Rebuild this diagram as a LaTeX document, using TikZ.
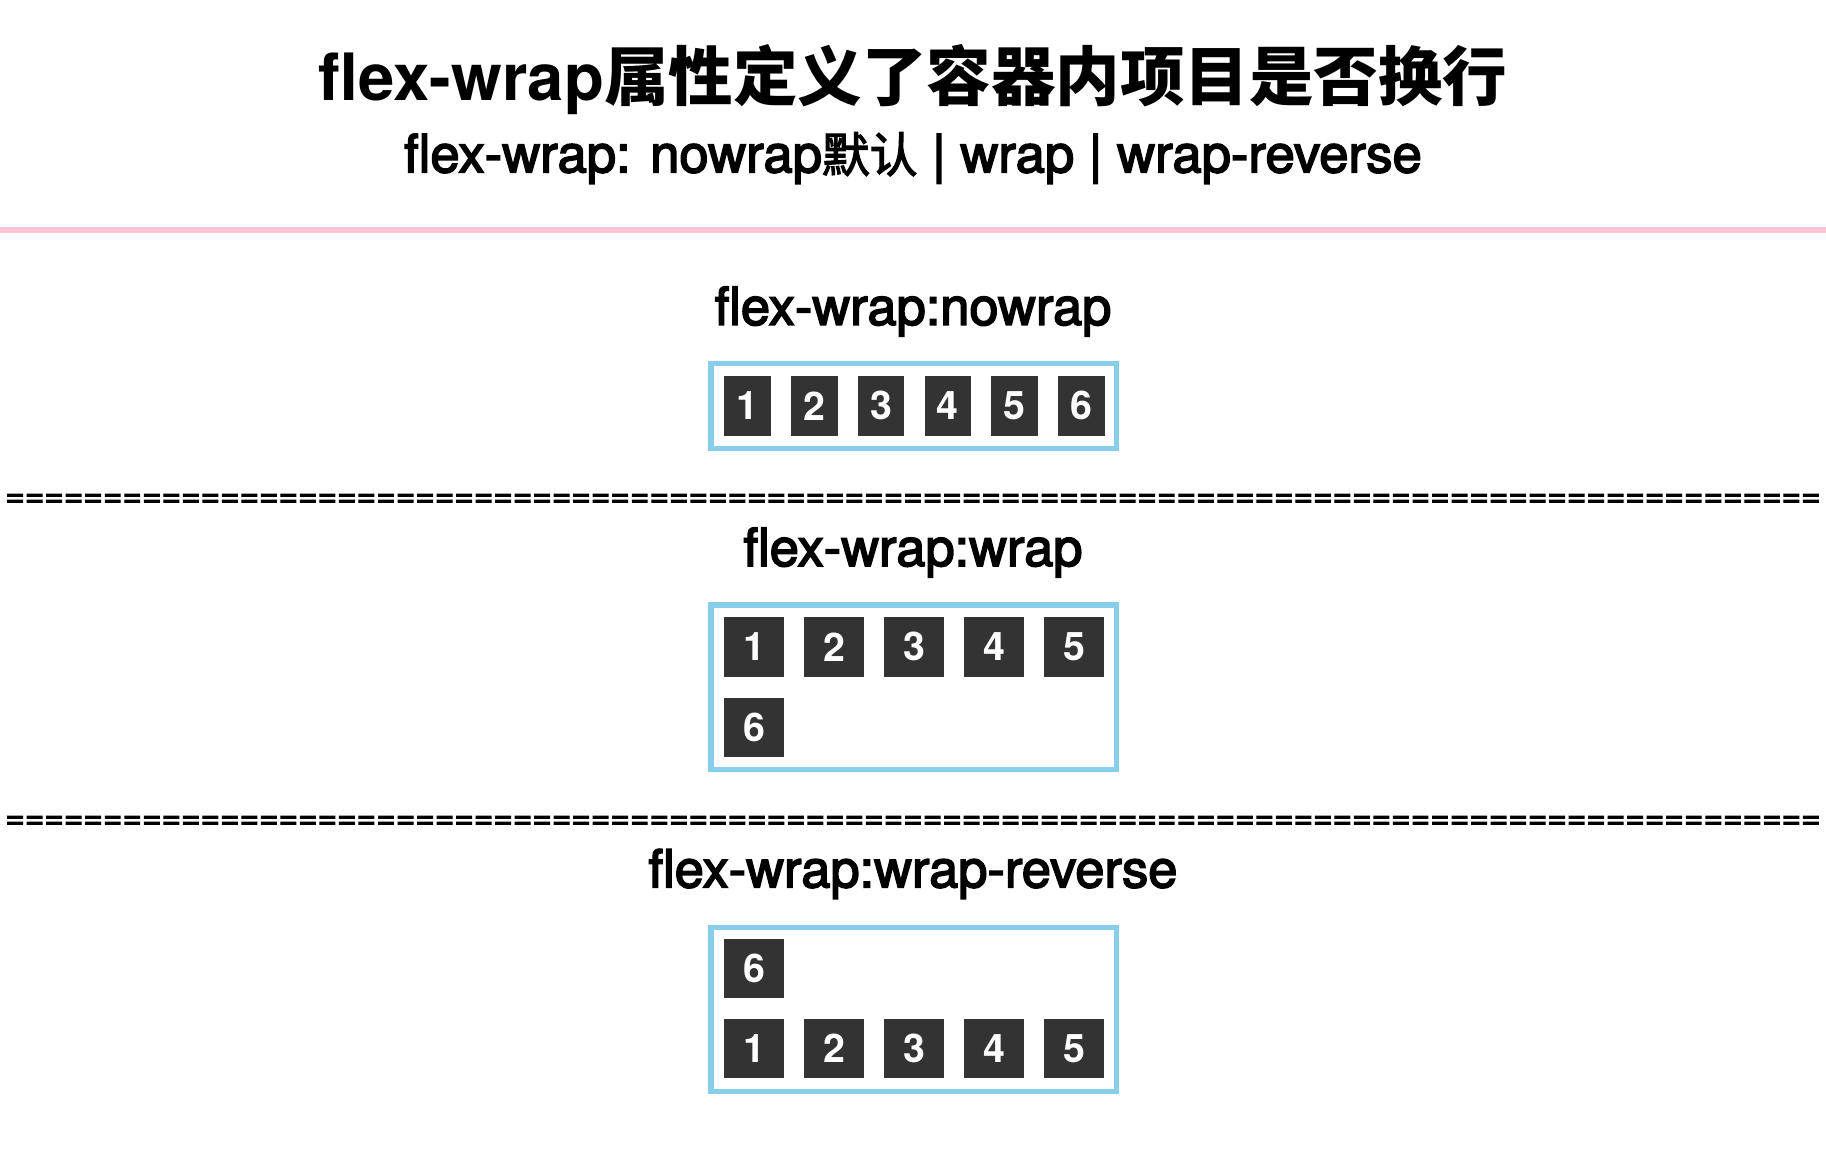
\documentclass[tikz,border=0pt]{standalone}
\usepackage{fontspec}
\setmainfont{TeX Gyre Heros}
\newfontfamily\medfont{TeX Gyre Heros}[FakeBold=3]
\newfontfamily\cjk{Noto Sans CJK SC}
\newfontfamily\cjkmed{Noto Sans CJK SC}[FakeBold=2.5]
\definecolor{boxblue}{HTML}{87CEEB}
\definecolor{pinkline}{HTML}{FFC3D4}
\definecolor{itemgray}{HTML}{333333}
\begin{document}
\begin{tikzpicture}[x=0.5pt,y=-0.5pt,
  container/.style={draw=boxblue, line width=2.25pt, inner sep=0pt, minimum width=174pt},
  itemtall/.style={fill=itemgray, text=white, font=\fontsize{16.9}{18}\selectfont\bfseries, inner sep=0pt, minimum width=20pt, minimum height=25.5pt},
  itemsq/.style={fill=itemgray, text=white, font=\fontsize{16.9}{18}\selectfont\bfseries, inner sep=0pt, minimum width=25.5pt, minimum height=25.5pt},
  heading/.style={anchor=base, inner sep=0pt, font=\medfont\fontsize{22.5}{24}\selectfont},
  separator/.style={anchor=base, inner sep=0pt, font=\medfont\fontsize{14.35}{16}\selectfont}
]
\useasboundingbox (0,0) rectangle (1568,995);

% title and subtitle
\node[anchor=base, inner sep=0pt, font=\fontsize{28}{30}\selectfont\bfseries] (title) at (784,86) {flex-wrap{\cjk\fontsize{27.7}{30}\selectfont 属性定义了容器内项目是否换行}};
\node[anchor=base, inner sep=0pt, font=\medfont\fontsize{22.6}{24}\selectfont] (subtitle) at (784,148) {flex-wrap: nowrap{\cjkmed\fontsize{20.5}{24}\selectfont 默认} | wrap | wrap-reverse};

\draw[pinkline, line width=2.25pt] (0,197.5) -- (1568,197.5);

% section 1: nowrap
\node[heading] (h1) at (784,279) {flex-wrap:nowrap};
\node[container, minimum height=36.5pt] (box1) at (784.5,348.5) {};
\node[itemtall] (a1) at (642,348.5) {1};
\node[itemtall] (a2) at (699.3,348.5) {2};
\node[itemtall] (a3) at (756.6,348.5) {3};
\node[itemtall] (a4) at (813.9,348.5) {4};
\node[itemtall] (a5) at (871.2,348.5) {5};
\node[itemtall] (a6) at (928.5,348.5) {6};

\node[separator] (sep1) at (784,435) {=============================================================================================};

% section 2: wrap
\node[heading] (h2) at (784,486) {flex-wrap:wrap};
\node[container, minimum height=70.5pt] (box2) at (784.5,590) {};
\node[itemsq] (b1) at (647.5,555.5) {1};
\node[itemsq] (b2) at (716.2,555.5) {2};
\node[itemsq] (b3) at (784.9,555.5) {3};
\node[itemsq] (b4) at (853.6,555.5) {4};
\node[itemsq] (b5) at (922.3,555.5) {5};
\node[itemsq] (b6) at (647.5,624.5) {6};

\node[separator] (sep2) at (784,711.5) {=============================================================================================};

% section 3: wrap-reverse
\node[heading] (h3) at (784,762) {flex-wrap:wrap-reverse};
\node[container, minimum height=70.5pt] (box3) at (784.5,867) {};
\node[itemsq] (c6) at (647.5,831.5) {6};
\node[itemsq] (c1) at (647.5,900.5) {1};
\node[itemsq] (c2) at (716.2,900.5) {2};
\node[itemsq] (c3) at (784.9,900.5) {3};
\node[itemsq] (c4) at (853.6,900.5) {4};
\node[itemsq] (c5) at (922.3,900.5) {5};
\end{tikzpicture}
\end{document}
